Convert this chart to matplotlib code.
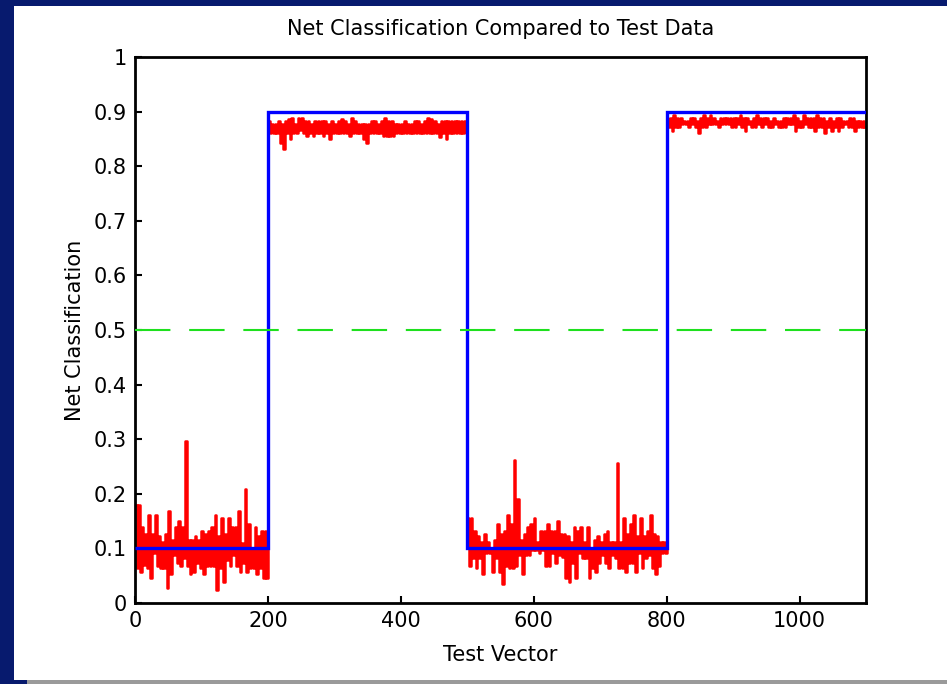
import numpy as np
import matplotlib
matplotlib.use("Agg")
import matplotlib.pyplot as plt
from matplotlib.patches import Rectangle

# network output read per 5-sample column: upper and lower extent of the trace
seg1_hi = [0.180, 0.180, 0.140, 0.126, 0.161, 0.126, 0.161, 0.122, 0.111, 0.126,
           0.169, 0.115, 0.140, 0.150, 0.140, 0.297, 0.115, 0.115, 0.122, 0.115,
           0.132, 0.126, 0.132, 0.140, 0.161, 0.122, 0.156, 0.126, 0.156, 0.140,
           0.140, 0.169, 0.109, 0.209, 0.145, 0.100, 0.140, 0.122, 0.132, 0.132]
seg1_lo = [0.064, 0.057, 0.070, 0.064, 0.045, 0.092, 0.068, 0.064, 0.064, 0.028,
           0.053, 0.087, 0.074, 0.068, 0.082, 0.068, 0.053, 0.057, 0.074, 0.064,
           0.053, 0.068, 0.068, 0.068, 0.024, 0.064, 0.039, 0.079, 0.068, 0.087,
           0.068, 0.057, 0.074, 0.057, 0.064, 0.064, 0.053, 0.064, 0.045, 0.045]

seg2_hi = [0.882, 0.877, 0.877, 0.882, 0.877, 0.882, 0.887, 0.888, 0.877, 0.888,
           0.888, 0.882, 0.882, 0.877, 0.882, 0.882, 0.882, 0.882, 0.877, 0.882,
           0.877, 0.882, 0.887, 0.882, 0.877, 0.888, 0.882, 0.877, 0.877, 0.877,
           0.877, 0.882, 0.882, 0.877, 0.882, 0.888, 0.882, 0.882, 0.877, 0.877,
           0.877, 0.882, 0.877, 0.877, 0.882, 0.882, 0.877, 0.882, 0.888, 0.887,
           0.882, 0.877, 0.882, 0.882, 0.882, 0.882, 0.882, 0.882, 0.882, 0.882]
seg2_lo = [0.860, 0.860, 0.860, 0.842, 0.831, 0.860, 0.850, 0.860, 0.860, 0.866,
           0.860, 0.855, 0.860, 0.855, 0.860, 0.860, 0.855, 0.860, 0.850, 0.860,
           0.860, 0.860, 0.860, 0.860, 0.855, 0.860, 0.860, 0.860, 0.850, 0.842,
           0.860, 0.860, 0.860, 0.860, 0.855, 0.855, 0.855, 0.855, 0.860, 0.860,
           0.860, 0.860, 0.860, 0.860, 0.860, 0.860, 0.860, 0.860, 0.860, 0.860,
           0.860, 0.854, 0.860, 0.850, 0.860, 0.860, 0.860, 0.860, 0.860, 0.860]

seg3_hi = [0.156, 0.156, 0.132, 0.122, 0.111, 0.126, 0.111, 0.100, 0.115, 0.145,
           0.126, 0.132, 0.161, 0.145, 0.262, 0.190, 0.115, 0.126, 0.140, 0.145,
           0.156, 0.111, 0.132, 0.132, 0.145, 0.132, 0.132, 0.150, 0.126, 0.126,
           0.122, 0.111, 0.140, 0.132, 0.140, 0.111, 0.140, 0.100, 0.115, 0.122,
           0.111, 0.126, 0.132, 0.111, 0.111, 0.257, 0.111, 0.156, 0.126, 0.145,
           0.161, 0.122, 0.156, 0.122, 0.132, 0.161, 0.126, 0.122, 0.111, 0.111]
seg3_lo = [0.068, 0.082, 0.064, 0.082, 0.053, 0.092, 0.092, 0.057, 0.082, 0.057,
           0.034, 0.068, 0.064, 0.064, 0.068, 0.087, 0.053, 0.087, 0.087, 0.097,
           0.097, 0.092, 0.097, 0.068, 0.068, 0.092, 0.074, 0.087, 0.085, 0.045,
           0.039, 0.074, 0.045, 0.092, 0.082, 0.082, 0.045, 0.064, 0.057, 0.074,
           0.087, 0.074, 0.064, 0.087, 0.082, 0.064, 0.064, 0.057, 0.074, 0.074,
           0.057, 0.092, 0.064, 0.082, 0.087, 0.064, 0.053, 0.068, 0.092, 0.092]

seg4_hi = [0.888, 0.888, 0.894, 0.888, 0.888, 0.883, 0.883, 0.888, 0.888, 0.883,
           0.888, 0.894, 0.888, 0.894, 0.888, 0.883, 0.888, 0.888, 0.888, 0.888,
           0.888, 0.888, 0.894, 0.888, 0.888, 0.883, 0.888, 0.894, 0.888, 0.888,
           0.888, 0.883, 0.888, 0.883, 0.883, 0.888, 0.888, 0.888, 0.894, 0.888,
           0.883, 0.894, 0.888, 0.888, 0.888, 0.894, 0.888, 0.888, 0.883, 0.888,
           0.883, 0.888, 0.888, 0.883, 0.883, 0.888, 0.888, 0.883, 0.883, 0.883]
seg4_lo = [0.872, 0.865, 0.872, 0.872, 0.877, 0.877, 0.872, 0.877, 0.872, 0.860,
           0.872, 0.872, 0.877, 0.877, 0.877, 0.872, 0.877, 0.877, 0.877, 0.872,
           0.872, 0.877, 0.872, 0.865, 0.877, 0.872, 0.872, 0.877, 0.872, 0.877,
           0.872, 0.872, 0.877, 0.872, 0.872, 0.872, 0.877, 0.877, 0.865, 0.872,
           0.872, 0.877, 0.872, 0.872, 0.865, 0.872, 0.872, 0.860, 0.872, 0.865,
           0.872, 0.865, 0.872, 0.877, 0.872, 0.872, 0.865, 0.872, 0.872, 0.872]

# target classification per block of test vectors
block_edges = [0, 200, 500, 800, 1100]
target_levels = [0.1, 0.9, 0.1, 0.9]
threshold = 0.5

xtick_vals = [0, 200, 400, 600, 800, 1000]
xtick_labels = ["0", "200", "400", "600", "800", "1000"]
ytick_vals = [0, 0.1, 0.2, 0.3, 0.4, 0.5, 0.6, 0.7, 0.8, 0.9, 1.0]
ytick_labels = ["0", "0.1", "0.2", "0.3", "0.4", "0.5", "0.6", "0.7", "0.8", "0.9", "1"]

hi = np.concatenate([seg1_hi, seg2_hi, seg3_hi, seg4_hi])
lo = np.concatenate([seg1_lo, seg2_lo, seg3_lo, seg4_lo])
net_out = np.column_stack((hi, lo)).ravel()
col_width = block_edges[-1] / len(hi)
x_net = np.arange(len(net_out)) * col_width / 2 + col_width / 4

fig = plt.figure(figsize=(9.47, 6.84), dpi=100, facecolor="#071a6e")
fig.patches.append(Rectangle((14 / 947, 4 / 684), 933 / 947, 674 / 684,
                             transform=fig.transFigure, facecolor="white",
                             edgecolor="none", zorder=-10))
fig.patches.append(Rectangle((27 / 947, 0), 920 / 947, 4 / 684,
                             transform=fig.transFigure, facecolor="#9a9a9a",
                             edgecolor="none", zorder=-10))

ax = fig.add_axes([135 / 947, 81 / 684, 731 / 947, 546 / 684])
ax.plot(x_net, net_out, color="red", lw=1.8, drawstyle="steps-mid", zorder=2)
ax.stairs(target_levels, block_edges, baseline=None, color="blue", lw=2.4, zorder=3)
ax.axhline(threshold, color="#1ee01e", lw=1.5, dashes=(17, 9), zorder=4)

ax.set_xlim(0, 1100)
ax.set_ylim(0, 1)
ax.set_xticks(xtick_vals, xtick_labels)
ax.set_yticks(ytick_vals, ytick_labels)
ax.tick_params(direction="in", length=5, width=1.5, labelsize=15, pad=6)
for sp in ax.spines.values():
    sp.set_linewidth(2)

ax.set_title("Net Classification Compared to Test Data", fontsize=15, pad=16)
ax.set_xlabel("Test Vector", fontsize=15, labelpad=10)
ax.set_ylabel("Net Classification", fontsize=15, labelpad=6)

fig.savefig("out.png", dpi=100, facecolor=fig.get_facecolor())
